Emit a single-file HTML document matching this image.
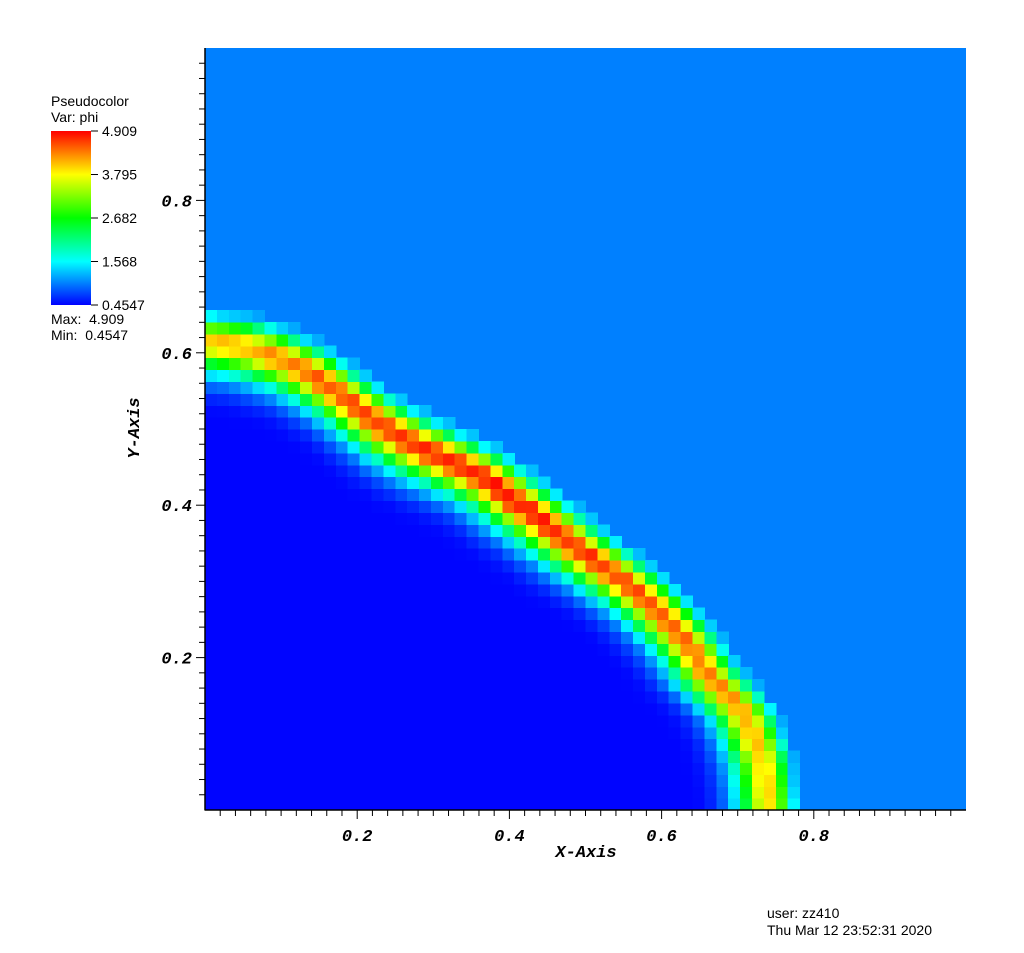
<!DOCTYPE html>
<html><head><meta charset="utf-8"><title>Pseudocolor phi</title>
<style>
body{margin:0;background:#fff;}
svg{display:block;font-family:"Liberation Sans",sans-serif;}
.ax{font-family:"Liberation Mono",monospace;font-weight:bold;font-style:italic;font-size:17px;fill:#000;}
.lg{font-size:14px;fill:#000;}
</style></head>
<body>
<svg id="chart" width="1024" height="953" viewBox="0 0 1024 953" xmlns="http://www.w3.org/2000/svg">
<defs>
<linearGradient id="cmap" x1="0" y1="1" x2="0" y2="0">
<stop offset="0" stop-color="#0000ff"/><stop offset="0.25" stop-color="#00ffff"/>
<stop offset="0.5" stop-color="#00ff00"/><stop offset="0.75" stop-color="#ffff00"/>
<stop offset="1" stop-color="#ff0000"/>
</linearGradient>
</defs>
<g id="legend">
<text class="lg" x="51" y="106">Pseudocolor</text>
<text class="lg" x="51" y="122">Var: phi</text>
<rect x="51" y="131" width="40" height="174" fill="url(#cmap)"/>
<g id="legendTicks"></g>
<text class="lg" x="51" y="324" xml:space="preserve">Max:  4.909</text>
<text class="lg" x="51" y="340" xml:space="preserve">Min:  0.4547</text>
</g>
<rect x="205" y="48" width="761" height="762" fill="#0080ff"/>
<g id="cells" shape-rendering="crispEdges"></g>
<g id="axes"></g>
<text class="ax" x="586" y="857" text-anchor="middle">X-Axis</text>
<text class="ax" x="0" y="0" text-anchor="middle" transform="translate(139,428) rotate(-90)">Y-Axis</text>
<text class="lg" x="767" y="918">user: zz410</text>
<text class="lg" x="767" y="935">Thu Mar 12 23:52:31 2020</text>
</svg>
<script>
// data
const vMin = 0.4547, vMax = 4.909, bgValue = 1.01;
const legendTickValues = [4.909, 3.795, 2.682, 1.568, 0.4547];
const legendTickLabels = ["4.909", "3.795", "2.682", "1.568", "0.4547"];
const axisMajorTicks = [0.2, 0.4, 0.6, 0.8];
const gridN = 64;
// front radius vs angle (degrees, every 5)
const frontAngles = [0,5,10,15,20,25,30,35,40,45,50,55,60,65,70,75,80,85,90];
const frontRadius = [0.745,0.74,0.725,0.69,0.672,0.65,0.625,0.603,0.59,0.58,0.575,0.565,0.558,0.56,0.572,0.59,0.605,0.615,0.62];
// peak amplitude vs angle
const peakAngles = [0,15,30,45,60,75,90];
const peakValues = [3.9,4.4,4.7,4.9,4.8,4.6,4.0];
// radial profile across band (cells, outward positive)
const profileOffsets = [-7,-6,-5,-4,-3,-2,-1,0,1,2,3];
const profileValues = [0.47,0.5,0.65,1.0,1.7,3.0,4.3,4.6,3.3,1.5,1.01];

const X0=205, X1=966, Y0=810, Y1=48;
const xs = v => X0 + v*(X1-X0);
const ys = v => Y0 - v*(Y0-Y1);
function interp(xa, ya, x){
  if (x<=xa[0]) return ya[0];
  if (x>=xa[xa.length-1]) return ya[ya.length-1];
  for (let i=1;i<xa.length;i++) if (x<=xa[i]){const t=(x-xa[i-1])/(xa[i]-xa[i-1]);return ya[i-1]+t*(ya[i]-ya[i-1]);}
}
function color(v){
  let t=(v-vMin)/(vMax-vMin); t=Math.max(0,Math.min(1,t));
  const stops=[[0,0,255],[0,255,255],[0,255,0],[255,255,0],[255,0,0]];
  const s=t*4, i=Math.min(3,Math.floor(s)), f=s-i;
  const c=stops[i].map((a,k)=>Math.round(a+(stops[i+1][k]-a)*f));
  return `rgb(${c[0]},${c[1]},${c[2]})`;
}
const NS="http://www.w3.org/2000/svg";
function mk(tag, attrs, parent){const e=document.createElementNS(NS,tag);for(const k in attrs)e.setAttribute(k,attrs[k]);parent.appendChild(e);return e;}

// heatmap
const cells=document.getElementById('cells');
const cw=(X1-X0)/gridN, ch=(Y0-Y1)/gridN;
for(let i=0;i<gridN;i++)for(let j=0;j<gridN;j++){
  const cx=(i+0.5)/gridN, cy=(j+0.5)/gridN;
  const r=Math.hypot(cx,cy), th=Math.atan2(cy,cx)*180/Math.PI;
  const fr=interp(frontAngles,frontRadius,th);
  const d=(r-fr)*gridN;
  if(d>2.6) continue;
  const amp=interp(peakAngles,peakValues,th);
  let p=interp(profileOffsets,profileValues,d);
  const base=0.47;
  const v=base+(p-base)*(amp-base)/(4.6-base);
  const rc=mk('rect',{x:(xs(i/gridN)).toFixed(2),y:(ys((j+1)/gridN)).toFixed(2),width:(cw+0.6).toFixed(2),height:(ch+0.6).toFixed(2),fill:color(v)},cells);
  
  
}

// axes
const ax=document.getElementById('axes');
mk('line',{x1:X0,y1:Y1,x2:X0,y2:Y0+0.5,stroke:'#000','stroke-width':1.5},ax);
mk('line',{x1:X0,y1:Y0,x2:X1,y2:Y0,stroke:'#000','stroke-width':1.5},ax);
for(let k=1;k<50;k++){
  const v=k/50, major=(k%10===0);
  const len=major?9:6;
  const tx=mk('line',{x1:xs(v),y1:Y0,x2:xs(v),y2:Y0+len,stroke:'#000','stroke-width':1},ax);
  
  
  const ty=mk('line',{x1:X0,y1:ys(v),x2:X0-len,y2:ys(v),stroke:'#000','stroke-width':1},ax);
  
  
}
axisMajorTicks.forEach(v=>{
  const a=mk('text',{x:xs(v),y:Y0+31,'text-anchor':'middle',class:'ax'},ax);a.textContent=v.toFixed(1);
  
  
  const b=mk('text',{x:X0-13,y:ys(v)+6,'text-anchor':'end',class:'ax'},ax);b.textContent=v.toFixed(1);
  
  
});

// legend ticks
const lt=document.getElementById('legendTicks');
const ly=v=>305-(v-vMin)/(vMax-vMin)*174;
legendTickValues.forEach((v,i)=>{
  const l=mk('line',{x1:91,y1:ly(v),x2:98,y2:ly(v),stroke:'#000','stroke-width':1},lt);
  
  
  const t=mk('text',{x:102,y:ly(v)+5,class:'lg'},lt);t.textContent=legendTickLabels[i];
  
  
});
</script>
</body></html>
